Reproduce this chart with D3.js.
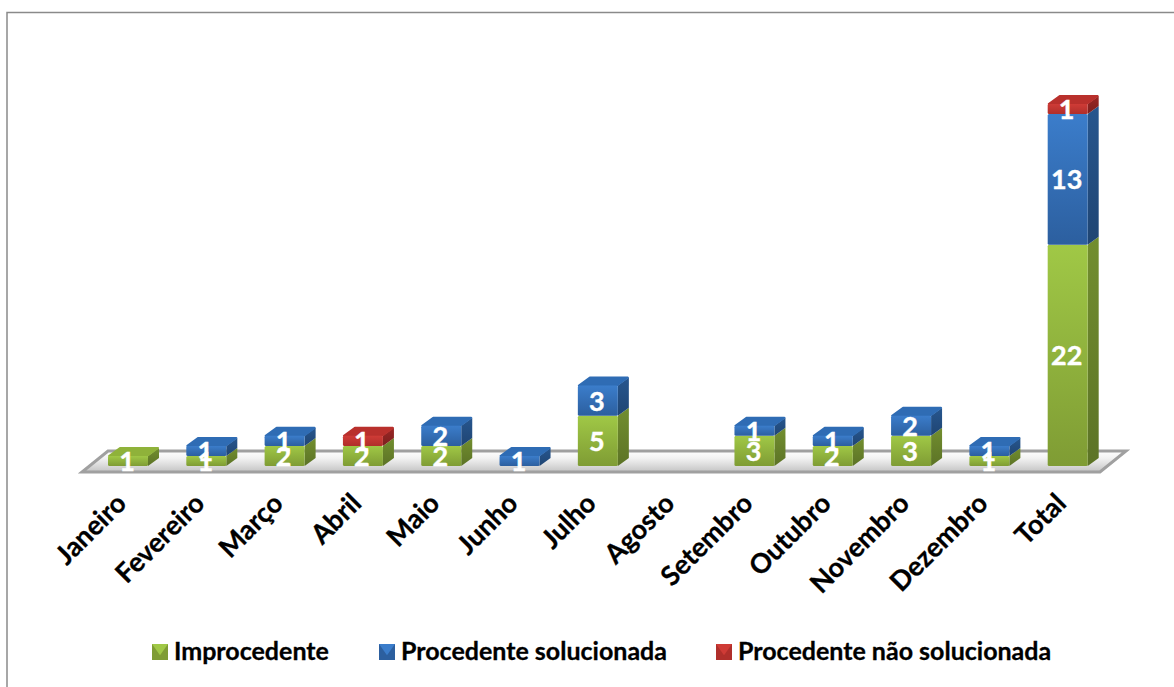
<!DOCTYPE html>
<html>
<head>
<meta charset="utf-8">
<script src="https://cdn.jsdelivr.net/npm/d3@7"></script>
<style>
  html, body { margin: 0; padding: 0; background: #fff; }
  svg { display: block; }
  text { font-family: Lato, "Open Sans", sans-serif; font-weight: 700; }
</style>
</head>
<body>
<svg width="1174" height="687"></svg>
<script>
var months = ["Janeiro", "Fevereiro", "Março", "Abril", "Maio", "Junho", "Julho", "Agosto",
              "Setembro", "Outubro", "Novembro", "Dezembro", "Total"];
var improcedente = [1, 1, 2, 2, 2, 0, 5, 0, 3, 2, 3, 1, 22];
var solucionada = [0, 1, 1, 0, 2, 1, 3, 0, 1, 1, 2, 1, 13];
var naoSolucionada = [0, 0, 0, 1, 0, 0, 0, 0, 0, 0, 0, 0, 1];
var seriesNames = ["Improcedente", "Procedente solucionada", "Procedente não solucionada"];
var seriesColors = [
  {hi: "#a0c846", lo: "#7f9c34", side: "#66802a", top: "#8fb23a"},
  {hi: "#3b7dcb", lo: "#2c5f9f", side: "#234d80", top: "#2f6cb4"},
  {hi: "#cf3b36", lo: "#b02f2b", side: "#8a2321", top: "#b9302c"}
];

var width = 1174, height = 687,
    depthX = 11, depthY = 8, barWidth = 40;

var svg = d3.select("svg");
var defs = svg.append("defs");

var x = d3.scaleBand().domain(months).range([82, 1100]);
var y = d3.scaleLinear().domain([0, 36]).range([466, 104]);

var rows = months.map(function(m, i) {
  return {month: m, 0: improcedente[i], 1: solucionada[i], 2: naoSolucionada[i]};
});
var stacked = d3.stack().keys([0, 1, 2])(rows);

seriesColors.forEach(function(c, i) {
  var g = defs.append("linearGradient").attr("id", "front" + i)
      .attr("x1", 0).attr("y1", 0).attr("x2", 0).attr("y2", 1);
  g.append("stop").attr("offset", 0).attr("stop-color", c.hi);
  g.append("stop").attr("offset", 1).attr("stop-color", c.lo);
  var s = defs.append("linearGradient").attr("id", "side" + i)
      .attr("x1", 0).attr("y1", 0).attr("x2", 0).attr("y2", 1);
  s.append("stop").attr("offset", 0).attr("stop-color", d3.color(c.side).brighter(0.3));
  s.append("stop").attr("offset", 1).attr("stop-color", d3.color(c.side).darker(0.3));
});

var floorFill = defs.append("linearGradient").attr("id", "floorFill")
    .attr("x1", 0).attr("y1", 0).attr("x2", 0).attr("y2", 1);
floorFill.append("stop").attr("offset", 0).attr("stop-color", "#ffffff");
floorFill.append("stop").attr("offset", 0.35).attr("stop-color", "#f2f2f2");
floorFill.append("stop").attr("offset", 1).attr("stop-color", "#c4c4c4");

// chart border, cut by the picture on the right
svg.append("path")
    .attr("d", "M7,687V12.5H1174")
    .attr("fill", "none")
    .attr("stroke", "#8a8a8a")
    .attr("stroke-width", 1.5);

// floor
var fx0 = x.range()[0], fx1 = x.range()[1], fy = 472, floorDx = 26, floorDy = 21;
svg.append("polygon")
    .attr("points", [[fx0, fy], [fx1, fy], [fx1 + floorDx, fy - floorDy], [fx0 + floorDx, fy - floorDy]].join(" "))
    .attr("fill", "url(#floorFill)")
    .attr("stroke", "#a0a0a0")
    .attr("stroke-width", 3)
    .attr("stroke-linejoin", "miter");

function barLeft(m) {
  return x(m) + 26;
}

// bars, bottom series first so the upper ones sit on top
var bars = svg.append("g");
stacked.forEach(function(layer, s) {
  layer.forEach(function(d, i) {
    if (d[1] === d[0]) return;
    var m = months[i], x0 = barLeft(m), x1 = x0 + barWidth,
        yb = y(d[0]), yt = y(d[1]);
    var isTop = !stacked.slice(s + 1).some(function(l) { return l[i][1] > l[i][0]; });
    var g = bars.append("g").attr("stroke-linejoin", "round");
    g.append("path")
        .attr("d", "M" + x1 + "," + yb + "L" + (x1 + depthX) + "," + (yb - depthY) +
                   "V" + (yt - depthY) + "L" + x1 + "," + yt + "Z")
        .attr("fill", "url(#side" + s + ")");
    if (isTop) {
      g.append("path")
          .attr("d", "M" + (x0 + 1) + "," + yt + "H" + (x1 - 1) + "L" + (x1 + depthX - 1) + "," + (yt - depthY) +
                     "H" + (x0 + depthX + 1) + "Z")
          .attr("fill", seriesColors[s].top)
          .attr("stroke", seriesColors[s].top)
          .attr("stroke-width", 2);
    }
    g.append("rect")
        .attr("x", x0).attr("y", yt)
        .attr("width", barWidth).attr("height", yb - yt)
        .attr("rx", 1.5)
        .attr("fill", "url(#front" + s + ")");
  });
});

// value labels
var labels = svg.append("g")
    .attr("fill", "#fff")
    .attr("stroke", "#fff")
    .attr("stroke-width", 0.4)
    .attr("font-size", 27)
    .attr("text-anchor", "middle");
stacked.forEach(function(layer) {
  layer.forEach(function(d, i) {
    if (d[1] === d[0]) return;
    labels.append("text")
        .attr("x", barLeft(months[i]) + barWidth / 2 - 1)
        .attr("y", (y(d[0]) + y(d[1])) / 2 + 10)
        .text(d[1] - d[0]);
  });
});

// month labels
svg.append("g")
    .attr("font-size", 27)
    .attr("fill", "#000")
    .attr("stroke", "#000")
    .attr("stroke-width", 0.3)
    .attr("text-anchor", "end")
    .selectAll("text")
    .data(months)
    .join("text")
    .attr("transform", function(m) {
      return "translate(" + (barLeft(m) + 20) + ",505) rotate(-45)";
    })
    .text(function(m) { return m; });

// legend
var legendX = [152, 379, 716], legendY = 644, swatch = 16;
var legend = svg.append("g").selectAll("g")
    .data(seriesNames)
    .join("g")
    .attr("transform", function(d, i) { return "translate(" + legendX[i] + "," + legendY + ")"; });
legend.append("rect")
    .attr("width", swatch).attr("height", swatch)
    .attr("fill", function(d, i) { return seriesColors[i].lo; });
legend.append("path")
    .attr("d", "M0,0H" + swatch + "L" + swatch / 2 + "," + swatch * 0.7 + "Z")
    .attr("fill", function(d, i) { return seriesColors[i].hi; });
legend.append("text")
    .attr("x", swatch + 6)
    .attr("y", 16)
    .attr("font-size", 25)
    .attr("fill", "#000")
    .attr("stroke", "#000")
    .attr("stroke-width", 0.3)
    .text(function(d) { return d; });
</script>
</body>
</html>
